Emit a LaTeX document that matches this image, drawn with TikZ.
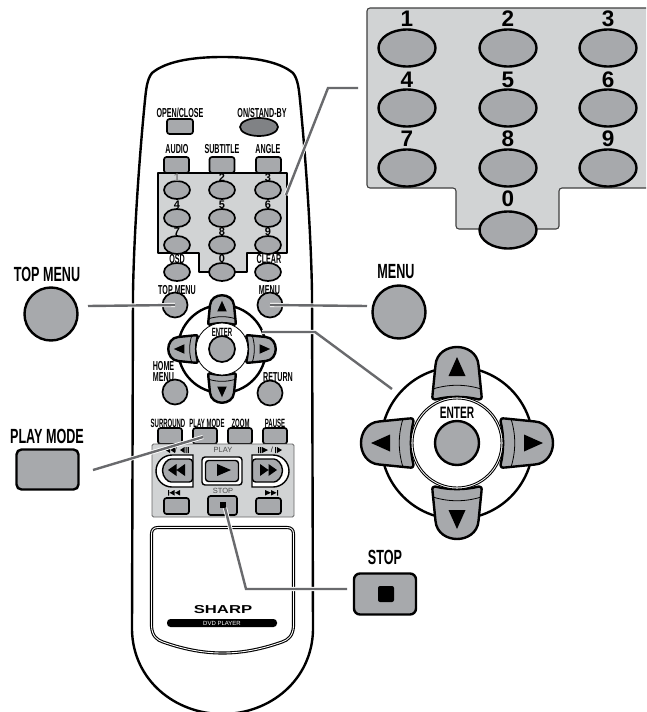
\documentclass[tikz,border=0pt]{standalone}
\usepackage{fontspec}
\usetikzlibrary{shapes.geometric}
\setmainfont{Liberation Sans}
\newfontfamily\condb[FakeStretch=0.615]{Liberation Sans Bold}
\newfontfamily\condc[FakeStretch=0.55]{Liberation Sans Bold}
\newfontfamily\condd[FakeStretch=0.5]{Liberation Sans Bold}
\newfontfamily\wideb[FakeStretch=1.45]{Liberation Sans Bold}
\definecolor{panelc}{RGB}{209,211,212}
\definecolor{btnc}{RGB}{167,169,172}
\definecolor{darkb}{RGB}{128,130,133}
\definecolor{linkc}{RGB}{105,106,109}
\tikzset{
  outl/.style={draw=black,line width=2.4pt},
  keys/.style={ellipse,outl,fill=btnc,minimum width=26pt,minimum height=18pt,inner sep=0pt,line width=1.7pt},
  keyb/.style={ellipse,outl,fill=btnc,minimum width=57pt,minimum height=37pt,inner sep=0pt},
  rnds/.style={circle,outl,fill=btnc,minimum size=25pt,inner sep=0pt,line width=1.7pt},
  rndb/.style={circle,outl,fill=btnc,minimum size=53pt,inner sep=0pt},
  recs/.style={rectangle,rounded corners=2.5pt,outl,fill=btnc,minimum width=25pt,minimum height=16pt,inner sep=0pt,line width=1.7pt},
  labs/.style={inner sep=0pt,font=\condc\fontsize{13}{13}\selectfont},
  labf/.style={inner sep=0pt,font=\condd\fontsize{12}{12}\selectfont},
  labb/.style={inner sep=0pt,font=\condb\fontsize{20.5}{20.5}\selectfont},
  nums/.style={inner sep=0pt,font=\bfseries\fontsize{11}{11}\selectfont},
  numb/.style={inner sep=0pt,font=\bfseries\fontsize{22.5}{22.5}\selectfont},
  grayt/.style={inner sep=0pt,text=black!70,font=\fontsize{7.5}{7.5}\selectfont},
  link/.style={draw=linkc,line width=2.4pt,preaction={draw=white,line width=4.2pt}},
  lidline/.style={draw=black,line width=1.1pt,double=white,double distance=0.9pt,line join=round},
}
\newcommand{\dpbtn}[3]{%
  \begin{scope}[shift={#1},rotate=#2,scale=#3]
    \draw[outl,fill=btnc,line join=round] (-22,-43.5) .. controls (-8,-47) and (8,-47) .. (22,-43.5)
      .. controls (24,-43) and (25,-45) .. (24.5,-48) -- (21.5,-78)
      .. controls (20.5,-90) and (10,-96) .. (0,-96)
      .. controls (-10,-96) and (-20.5,-90) .. (-21.5,-78) -- (-24.5,-48)
      .. controls (-25,-45) and (-24,-43) .. (-22,-43.5) -- cycle;
    \draw[black,line width=0.8pt] (-24.2,-54) .. controls (-8,-59) and (8,-59) .. (24.2,-54);
    \fill[black] (-8.5,-67) -- (8.5,-67) -- (0,-86) -- cycle;
  \end{scope}}
\newcommand{\dpadbase}[3]{% centre, ring radius, inner radius
  \draw[black,line width=2.4pt,fill=white] #1 circle (#2);
  \dpbtn{#1}{0}{#3}\dpbtn{#1}{90}{#3}\dpbtn{#1}{180}{#3}\dpbtn{#1}{270}{#3}}
\begin{document}
\begin{tikzpicture}[x=1pt,y=-1pt]
\useasboundingbox (0,0) rectangle (646,712);
\clip (0,0) rectangle (646,712);
\fill[white] (0,0) rectangle (646,712);

% remote body
\draw[black,line width=2.4pt,line join=round] (222.5,57) .. controls (190,57) and (165,62) .. (152,73)
  .. controls (147,79) and (146,90) .. (145,100) .. controls (140,150) and (134,230) .. (133,293)
  -- (132,630) .. controls (133,680) and (175,714) .. (222.5,714)
  .. controls (270,714) and (312,680) .. (313,630) -- (312,293)
  .. controls (311,230) and (305,150) .. (300,100) .. controls (299,90) and (298,79) .. (293,73)
  .. controls (280,62) and (255,57) .. (222.5,57) -- cycle;

% top buttons
\node[labs] (lopen) at (180,113) {OPEN/CLOSE};
\node[labs] (lon) at (262,113) {ON/STAND-BY};
\node[recs,minimum width=26pt,minimum height=15pt] (bopen) at (180,126.5) {};
\node[ellipse,outl,fill=darkb,minimum width=38pt,minimum height=18pt,inner sep=0pt,line width=1.7pt] (bon) at (259,127) {};
\node[labs] (laud) at (177,149) {AUDIO};
\node[labs] (lsub) at (222,149) {SUBTITLE};
\node[labs] (lang) at (268,149) {ANGLE};
\node[recs] (baud) at (176.5,165) {};
\node[recs] (bsub) at (222,165) {};
\node[recs] (bang) at (268.5,165) {};

% OSD, CLEAR keys under the keypad
\node[keys] (bosd) at (177,272) {};
\node[keys] (bclr) at (268,272) {};

% keypad on remote
\draw[black,line width=2.8pt,fill=panelc,line join=round] (158,173) -- (287,173) -- (287,253) -- (247,253) -- (247,272) -- (199,272) -- (199,253) -- (158,253) -- cycle;
\foreach \n/\x/\y in {1/177/190,2/222/190,3/268/190,4/177/218,5/222/218,6/268/218,7/177/245,8/222/245,9/268/245,0/222/272}{
  \node[keys] (s\n) at (\x,\y) {};
}
\node[nums,text=black!50] (n1) at (177,177.5) {1};
\foreach \n/\x/\y in {2/222/177.5,3/268/177.5,4/177/205,5/222/205,6/268/205,7/177/232,8/222/232,9/268/232,0/222/259}{
  \node[nums] (n\n) at (\x,\y) {\n};
}
\node[labs] (losd) at (177,259.5) {OSD};
\node[labs] (lclr) at (269,259.5) {CLEAR};

% menu row
\node[labs] (ltop) at (177,290) {TOP MENU};
\node[labs] (lmen) at (269.5,290) {MENU};
\node[rnds] (btop) at (175,305) {};
\node[rnds] (bmen) at (270,305) {};

% small d-pad
\dpadbase{(222,349)}{44}{0.56}
\draw[black,line width=0.8pt,fill=white] (222,349) circle (26);
\node[rnds,minimum size=26pt] (bent) at (222,349) {};
\node[labs,font=\condd\fontsize{12}{12}\selectfont] (lent) at (222,332) {ENTER};
\node[labs] (lhom) at (163.5,366.5) {HOME};
\node[labs] (lhm2) at (163.5,377.5) {MENU};
\node[rnds] (bhom) at (175,392) {};
\node[labs] (lret) at (278,377) {RETURN};
\node[rnds] (bret) at (270,393) {};

% function row
\node[labf] (lsur) at (168,423) {SURROUND};
\node[labf] (lpla) at (207,423) {PLAY MODE};
\node[labf] (lzoo) at (240.5,423) {ZOOM};
\node[labf] (lpau) at (275,423) {PAUSE};
\node[recs,minimum width=24pt] (bsur) at (170,436) {};
\node[recs,minimum width=24pt] (bpla) at (205,436) {};
\node[recs,minimum width=24pt] (bzoo) at (240,436) {};
\node[recs,minimum width=24pt] (bpau) at (275,436) {};

% transport panel
\draw[black!60,line width=0.9pt,fill=panelc,rounded corners=1.5pt] (152,444) rectangle (294,517);
\node[grayt] (lplay) at (223,450) {PLAY};
\node[grayt] (lstop) at (223,491) {STOP};
\node[grayt,text=black] (lsl) at (176,450) {/};
\fill[black] (175,447) -- (175,453) -- (170.5,450) -- cycle;
\fill[black] (170,447) -- (170,453) -- (165.5,450) -- cycle;
\fill[black] (184.5,447) -- (184.5,453) -- (180,450) -- cycle (185.5,447) rectangle (186.7,453) (187.7,447) rectangle (188.9,453);
\node[grayt,text=black] (lsr) at (272,450) {/};
\fill[black] (258,447) rectangle (259.2,453) (260.2,447) rectangle (261.4,453) (262,447) -- (262,453) -- (268,450) -- cycle;
\fill[black] (275,447) rectangle (276,453) (277,447) -- (277,453) -- (282,450) -- cycle;

% rew / play / ff
\draw[black,line width=1.4pt,fill=white] (193,455) -- (172,455) arc (270:90:16) -- (193,487) -- cycle;
\draw[black,line width=1.4pt,fill=btnc,rounded corners=3pt] (192.5,459) -- (174,459) arc (270:90:11.5) -- (192.5,482) -- cycle;
\fill[black] (176.5,464) -- (176.5,476) -- (168,470) -- cycle (185,464) -- (185,476) -- (176.5,470) -- cycle;
\draw[black,line width=1.4pt,fill=white,rounded corners=3pt] (202,457) rectangle (242,485);
\draw[black,line width=1.4pt,fill=btnc,rounded corners=3pt] (205.5,460.5) rectangle (238.5,481.5);
\fill[black] (217,464) -- (217,476) -- (231,470) -- cycle;
\draw[black,line width=1.4pt,fill=white] (252,455) -- (273,455) arc (-90:90:16) -- (252,487) -- cycle;
\draw[black,line width=1.4pt,fill=btnc,rounded corners=3pt] (252.5,459) -- (271,459) arc (-90:90:11.5) -- (252.5,482) -- cycle;
\fill[black] (260,464) -- (260,476) -- (268.5,470) -- cycle (268.5,464) -- (268.5,476) -- (277,470) -- cycle;

% skip row
\fill[black] (168,490) rectangle (169.2,495.5) (174.5,490) -- (174.5,495.5) -- (169.5,492.75) -- cycle (180,490) -- (180,495.5) -- (175,492.75) -- cycle;
\fill[black] (277,490) rectangle (278.2,495.5) (265,490) -- (265,495.5) -- (271,492.75) -- cycle (271,490) -- (271,495.5) -- (276.5,492.75) -- cycle;
\node[recs] (bprev) at (176.5,506) {};
\node[recs,minimum width=29pt,minimum height=19pt] (bstop) at (222.5,505.5) {};
\node[recs] (bnext) at (268.5,506) {};
\node[fill=black,minimum size=6pt,inner sep=0pt] (sstop) at (223,505) {};

% lid
\draw[lidline] (158,527.5) -- (287,527.5) .. controls (291.5,527.5) and (293.5,530) .. (293.5,534)
  -- (293.5,626) .. controls (293,636) and (288,640) .. (282,642) .. controls (262,649) and (243,653) .. (222.5,653) .. controls (202,653) and (183,649) .. (163,642) .. controls (157,640) and (152,636) .. (151.5,626) -- (151.5,534) .. controls (151.5,530) and (153.5,527.5) .. (158,527.5) -- cycle;
\node[inner sep=0pt,font=\wideb\fontsize{11.5}{11.5}\selectfont] (lsharp) at (223,610) {SHARP};
\node[fill=black,rounded corners=3.5pt,minimum width=110pt,minimum height=8pt,inner sep=0pt,text=white,font=\fontsize{6}{6}\selectfont] (ldvd) at (222,623) {DVD PLAYER};

% big keypad
\draw[black!75,line width=1.1pt,fill=panelc,rounded corners=3pt] (367,8) -- (670,8) -- (670,188) -- (559,188) -- (559,229) -- (456,229) -- (456,188) -- (367,188) -- cycle;
\foreach \n/\x/\y in {1/407/48,2/508/48,3/608/48,4/407/108,5/508/108,6/608/108,7/407/168,8/508/168,9/608/168,0/508/230}{
  \node[keyb] (k\n) at (\x,\y) {};
}
\foreach \n/\x/\y in {1/407/19,2/508/19,3/608/19,4/407/80,5/508/80,6/608/80,7/407/139,8/508/139,9/608/139,0/508/199}{
  \node[numb] (m\n) at (\x,\y) {\n};
}

% big side buttons
\node[labb] (LTOP) at (47,274) {TOP MENU};
\node[rndb] (BTOP) at (51,314) {};
\node[labb] (LMEN) at (396,272) {MENU};
\node[rndb] (BMEN) at (399,312) {};
\node[labb] (LPLA) at (47,436) {PLAY MODE};
\node[rectangle,rounded corners=5pt,outl,fill=btnc,minimum width=62pt,minimum height=40pt,inner sep=0pt] (BPLA) at (47.5,469.5) {};
\node[labb] (LSTO) at (385,557) {STOP};
\node[rectangle,rounded corners=6pt,outl,fill=btnc,minimum width=62pt,minimum height=41pt,inner sep=0pt] (BSTO) at (385,594) {};
\node[fill=black,rounded corners=2pt,minimum size=16pt,inner sep=0pt] (SSTO) at (386,594) {};

% big d-pad
\dpadbase{(457,443)}{76}{1}
\draw[black,line width=0.9pt,fill=white] (457,443) circle (46);
\draw[black,line width=0.9pt] (457,443) circle (44);
\node[rndb,minimum size=44pt] (BENT) at (457,443) {};
\node[labb,font=\condb\fontsize{16.5}{16.5}\selectfont] (LENT) at (457,413) {ENTER};

% connectors
\coordinate (c1a) at (286,195);
\coordinate (c1b) at (328,88);
\coordinate (c1c) at (358,88);
\draw[link] (c1a) -- (c1b) -- (c1c);
\coordinate (c2a) at (88,306);
\draw[link] (c2a) -- (btop.center);
\coordinate (c3a) at (367,306);
\draw[link] (bmen.center) -- (c3a);
\coordinate (c4a) at (262,332);
\coordinate (c4b) at (315,332);
\coordinate (c4c) at (392,389);
\draw[link] (c4a) -- (c4b) -- (c4c);
\coordinate (c5a) at (93,470);
\coordinate (c5b) at (203,437);
\draw[link] (c5a) -- (c5b);
\coordinate (c6a) at (225,508);
\coordinate (c6b) at (246,589);
\coordinate (c6c) at (347,589);
\draw[link] (c6a) -- (c6b) -- (c6c);
\end{tikzpicture}
\end{document}
